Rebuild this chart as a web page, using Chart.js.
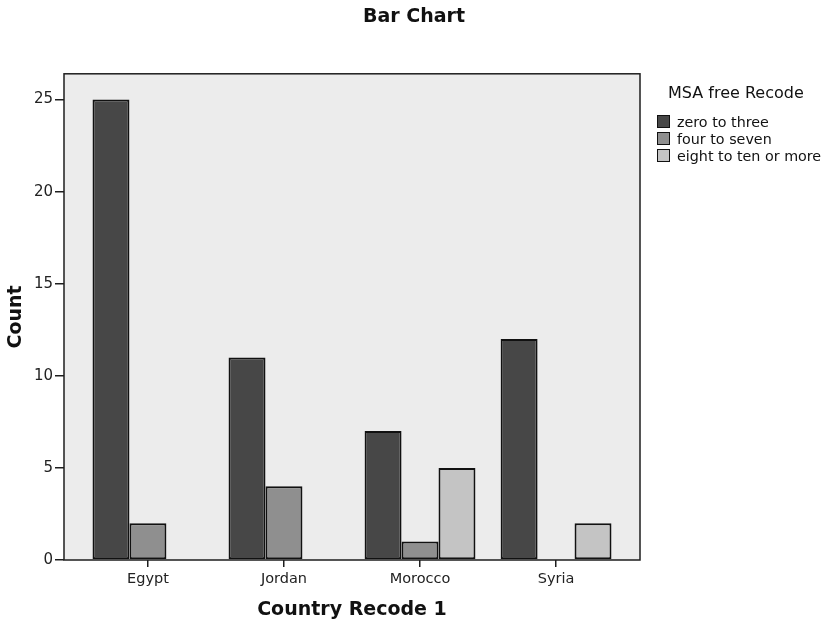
<!DOCTYPE html>
<html>
<head>
<meta charset="utf-8">
<title>Bar Chart</title>
<script src="https://cdn.jsdelivr.net/npm/chart.js@4.4.1/dist/chart.umd.min.js"></script>
<style>
    body { margin: 0; background: #ffffff; }
    #chartBox { position: relative; width: 828px; height: 622px; }
    #legend {
        position: absolute;
        left: 657px;
        top: 83px;
        font-family: 'DejaVu Sans', 'Open Sans', sans-serif;
        color: #111;
    }
    #legend .legend-title {
        font-size: 16px;
        line-height: 20px;
        margin: 0 0 10px 11px;
        white-space: nowrap;
    }
    #legend .legend-item {
        display: flex;
        align-items: center;
        height: 17px;
        font-size: 14.3px;
        white-space: nowrap;
    }
    #legend .legend-swatch {
        width: 11px;
        height: 11px;
        border: 1px solid #111;
        margin-right: 7px;
    }
</style>
</head>
<body>
<div id="chartBox">
    <canvas id="barChart" width="828" height="622"></canvas>
    <div id="legend"></div>
</div>
<script>
// Chart data
const countries = ['Egypt', 'Jordan', 'Morocco', 'Syria'];
const seriesNames = ['zero to three', 'four to seven', 'eight to ten or more'];
const zeroToThree = [25, 11, 7, 12];
const fourToSeven = [2, 4, 1, 0];
const eightToTen = [0, 0, 5, 2];
const yTicks = [0, 5, 10, 15, 20, 25];

const barColors = ['#474747', '#8f8f8f', '#c4c4c4'];
const fontFamily = "'DejaVu Sans', 'Open Sans', sans-serif";

document.addEventListener('DOMContentLoaded', function() {
    initializeChart();
    buildLegend();
});

function toPoints(values) {
    return values.map((v, i) => ({ x: i, y: v }));
}

// light grey plot background + dark frame round the chart area
const plotFrame = {
    id: 'plotFrame',
    beforeDraw(chart) {
        const a = chart.chartArea;
        const ctx = chart.ctx;
        ctx.save();
        ctx.fillStyle = '#ececec';
        ctx.fillRect(a.left, a.top, a.right - a.left, a.bottom - a.top);
        ctx.restore();
    },
    afterDatasetsDraw(chart) {
        const a = chart.chartArea;
        const ctx = chart.ctx;
        ctx.save();
        ctx.strokeStyle = '#1e1e1e';
        ctx.lineWidth = 1.5;
        ctx.strokeRect(a.left, a.top, a.right - a.left, a.bottom - a.top);
        ctx.restore();
    }
};

function buildLegend() {
    const box = document.getElementById('legend');
    box.innerHTML = '<div class="legend-title">MSA free Recode</div>' +
        seriesNames.map((name, i) => `
            <div class="legend-item">
                <span class="legend-swatch" style="background:${barColors[i]}"></span>
                <span>${name}</span>
            </div>
        `).join('');
}

function initializeChart() {
    const ctx = document.getElementById('barChart').getContext('2d');
    const allSeries = [zeroToThree, fourToSeven, eightToTen];

    const chartData = {
        datasets: allSeries.map((values, i) => ({
            label: seriesNames[i],
            data: toPoints(values),
            backgroundColor: barColors[i],
            borderColor: '#111111',
            borderWidth: 2,
            borderSkipped: false
        }))
    };

    const config = {
        type: 'bar',
        data: chartData,
        options: {
            responsive: false,
            animation: false,
            devicePixelRatio: 1,
            categoryPercentage: 0.815,
            barPercentage: 1,
            layout: { padding: 0 },
            plugins: {
                title: {
                    display: true,
                    text: 'Bar Chart',
                    color: '#111',
                    font: { family: fontFamily, size: 19, weight: 'bold' },
                    padding: { top: 6, bottom: 45 }
                },
                legend: { display: false },
                tooltip: { enabled: false }
            },
            scales: {
                x: {
                    type: 'linear',
                    offset: false,
                    min: -0.617,
                    max: 3.617,
                    afterBuildTicks: axis => {
                        axis.ticks = countries.map((c, i) => ({ value: i }));
                    },
                    afterFit: axis => { axis.height = 62; },
                    border: { display: false },
                    grid: {
                        offset: false,
                        drawOnChartArea: false,
                        drawTicks: true,
                        tickLength: 7,
                        color: '#1e1e1e',
                        lineWidth: 1.5
                    },
                    ticks: {
                        padding: 4,
                        maxRotation: 0,
                        color: '#222',
                        font: { family: fontFamily, size: 14.5 },
                        callback: value => countries[value]
                    },
                    title: {
                        display: true,
                        text: 'Country Recode 1',
                        color: '#111',
                        font: { family: fontFamily, size: 19, weight: 'bold' },
                        padding: { top: 0, bottom: 1 }
                    }
                },
                y: {
                    min: 0,
                    max: 26.4,
                    afterBuildTicks: axis => {
                        axis.ticks = yTicks.map(v => ({ value: v }));
                    },
                    afterFit: axis => { axis.width = 64; },
                    border: { display: false },
                    grid: {
                        drawOnChartArea: false,
                        drawTicks: true,
                        tickLength: 9,
                        color: '#1e1e1e',
                        lineWidth: 1.5
                    },
                    ticks: {
                        padding: 2,
                        color: '#222',
                        font: { family: fontFamily, size: 15 }
                    },
                    title: {
                        display: true,
                        text: 'Count',
                        color: '#111',
                        font: { family: fontFamily, size: 19, weight: 'bold' },
                        padding: { top: 5, bottom: 0 }
                    }
                },
                // empty axis that only keeps room on the right for the legend
                gap: {
                    type: 'linear',
                    position: 'right',
                    display: true,
                    ticks: { display: false },
                    grid: { display: false },
                    border: { display: false },
                    afterFit: axis => { axis.width = 188; }
                }
            }
        },
        plugins: [plotFrame]
    };

    new Chart(ctx, config);
}
</script>
</body>
</html>
